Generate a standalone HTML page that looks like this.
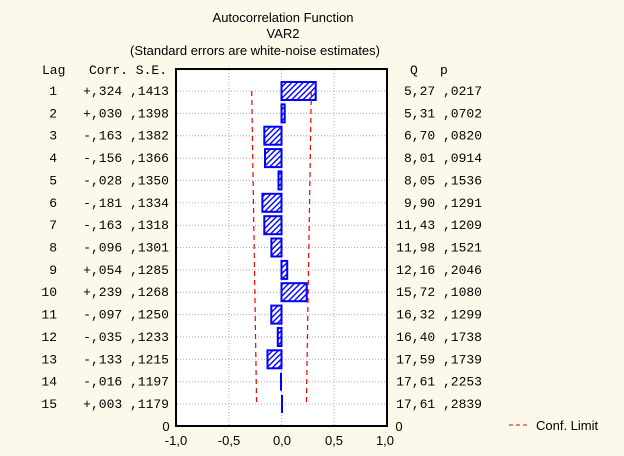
<!DOCTYPE html><html><head><style>body{margin:0;background:#fcf8ea}svg{display:block}</style></head><body>
<svg width="624" height="456" xmlns="http://www.w3.org/2000/svg" font-family="Liberation Sans, sans-serif">
<defs><pattern id="h" width="4" height="4" patternUnits="userSpaceOnUse" patternTransform="rotate(45)"><rect width="4" height="4" fill="#fff"/><rect width="1.4" height="4" fill="#00f"/></pattern></defs>
<rect width="624" height="456" fill="#fcf8ea"/>
<rect x="176" y="69" width="211" height="357" fill="#fff" stroke="#000" stroke-width="2"/>
<g stroke="#aaa" stroke-dasharray="1,2" stroke-width="1">
<line x1="229" y1="70" x2="229" y2="425"/><line x1="281.5" y1="70" x2="281.5" y2="425"/><line x1="334" y1="70" x2="334" y2="425"/>
<line x1="177" x2="386" y1="91" y2="91"/><line x1="177" x2="386" y1="113.4" y2="113.4"/><line x1="177" x2="386" y1="135.7" y2="135.7"/><line x1="177" x2="386" y1="158.1" y2="158.1"/><line x1="177" x2="386" y1="180.4" y2="180.4"/><line x1="177" x2="386" y1="202.8" y2="202.8"/><line x1="177" x2="386" y1="225.2" y2="225.2"/><line x1="177" x2="386" y1="247.5" y2="247.5"/><line x1="177" x2="386" y1="269.9" y2="269.9"/><line x1="177" x2="386" y1="292.2" y2="292.2"/><line x1="177" x2="386" y1="314.6" y2="314.6"/><line x1="177" x2="386" y1="337" y2="337"/><line x1="177" x2="386" y1="359.3" y2="359.3"/><line x1="177" x2="386" y1="381.7" y2="381.7"/><line x1="177" x2="386" y1="404" y2="404"/>
</g>
<g fill="url(#h)" stroke="#00f" stroke-width="2">
<rect x="281.5" y="82" width="34.2" height="18"/>
<rect x="281.5" y="104.4" width="3.2" height="18"/>
<rect x="264.3" y="126.7" width="17.2" height="18"/>
<rect x="265" y="149.1" width="16.5" height="18"/>
<rect x="278.5" y="171.4" width="3" height="18"/>
<rect x="262.4" y="193.8" width="19.1" height="18"/>
<rect x="264.3" y="216.2" width="17.2" height="18"/>
<rect x="271.4" y="238.5" width="10.1" height="18"/>
<rect x="281.5" y="260.9" width="5.7" height="18"/>
<rect x="281.5" y="283.2" width="25.2" height="18"/>
<rect x="271.3" y="305.6" width="10.2" height="18"/>
<rect x="277.8" y="328" width="3.7" height="18"/>
<rect x="267.5" y="350.3" width="14" height="18"/>
</g>
<line x1="281" y1="372.7" x2="281" y2="390.7" stroke="#00f" stroke-width="2"/>
<line x1="282" y1="395" x2="282" y2="413" stroke="#00f" stroke-width="2"/>
<g stroke="#e00" stroke-dasharray="5,4" stroke-width="1.2" fill="none">
<line x1="251.7" y1="91" x2="256.6" y2="404"/><line x1="311.3" y1="91" x2="306.4" y2="404"/>
</g>
<g font-size="13" fill="#000" text-anchor="middle">
<text x="283" y="22">Autocorrelation Function</text>
<text x="283" y="38">VAR2</text>
<text x="255" y="55">(Standard errors are white-noise estimates)</text>
<text x="176" y="445">-1,0</text><text x="229" y="445">-0,5</text><text x="282" y="445">0,0</text><text x="334" y="445">0,5</text><text x="385" y="445">1,0</text>
<text x="166" y="431">0</text><text x="399" y="431">0</text>
</g>
<text x="536" y="430" font-size="13">Conf. Limit</text>
<line x1="509" y1="425" x2="530" y2="425" stroke="#e00" stroke-dasharray="4,3"/>
<g font-family="Liberation Mono, monospace" font-size="13" fill="#000">
<text x="42" y="74">Lag</text><text x="89" y="74">Corr. S.E.</text><text x="410" y="74">Q</text><text x="440" y="74">p</text>
<g text-anchor="end">
<text x="57" y="95">1</text><text x="57" y="117.4">2</text><text x="57" y="139.7">3</text><text x="57" y="162.1">4</text><text x="57" y="184.4">5</text><text x="57" y="206.8">6</text><text x="57" y="229.2">7</text><text x="57" y="251.5">8</text><text x="57" y="273.9">9</text><text x="57" y="296.2">10</text><text x="57" y="318.6">11</text><text x="57" y="341">12</text><text x="57" y="363.3">13</text><text x="57" y="385.7">14</text><text x="57" y="408">15</text>
<text x="169" y="95">+,324 ,1413</text><text x="169" y="117.4">+,030 ,1398</text><text x="169" y="139.7">-,163 ,1382</text><text x="169" y="162.1">-,156 ,1366</text><text x="169" y="184.4">-,028 ,1350</text><text x="169" y="206.8">-,181 ,1334</text><text x="169" y="229.2">-,163 ,1318</text><text x="169" y="251.5">-,096 ,1301</text><text x="169" y="273.9">+,054 ,1285</text><text x="169" y="296.2">+,239 ,1268</text><text x="169" y="318.6">-,097 ,1250</text><text x="169" y="341">-,035 ,1233</text><text x="169" y="363.3">-,133 ,1215</text><text x="169" y="385.7">-,016 ,1197</text><text x="169" y="408">+,003 ,1179</text>
<text x="482" y="95">5,27 ,0217</text><text x="482" y="117.4">5,31 ,0702</text><text x="482" y="139.7">6,70 ,0820</text><text x="482" y="162.1">8,01 ,0914</text><text x="482" y="184.4">8,05 ,1536</text><text x="482" y="206.8">9,90 ,1291</text><text x="482" y="229.2">11,43 ,1209</text><text x="482" y="251.5">11,98 ,1521</text><text x="482" y="273.9">12,16 ,2046</text><text x="482" y="296.2">15,72 ,1080</text><text x="482" y="318.6">16,32 ,1299</text><text x="482" y="341">16,40 ,1738</text><text x="482" y="363.3">17,59 ,1739</text><text x="482" y="385.7">17,61 ,2253</text><text x="482" y="408">17,61 ,2839</text>
</g></g>
</svg></body></html>
